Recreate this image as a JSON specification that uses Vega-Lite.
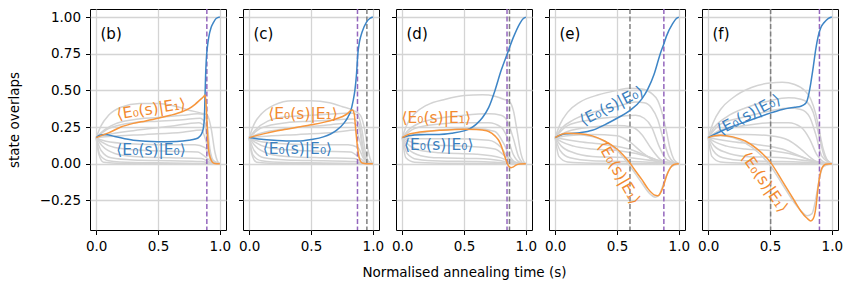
{
"$schema":"https://vega.github.io/schema/vega-lite/v6.json",
"padding":{"left":6,"top":7,"right":5,"bottom":5},
"bounds":"flush",
"spacing":17,
"datasets":{
"curves":[
{"p":"b","c":"E0","s":0,"v":0.178},{"p":"b","c":"E0","s":0.03,"v":0.195},{"p":"b","c":"E0","s":0.07,"v":0.2},{"p":"b","c":"E0","s":0.15,"v":0.186},{"p":"b","c":"E0","s":0.3,"v":0.16},{"p":"b","c":"E0","s":0.5,"v":0.15},{"p":"b","c":"E0","s":0.65,"v":0.152},{"p":"b","c":"E0","s":0.75,"v":0.16},{"p":"b","c":"E0","s":0.8,"v":0.168},{"p":"b","c":"E0","s":0.83,"v":0.18},{"p":"b","c":"E0","s":0.85,"v":0.2},{"p":"b","c":"E0","s":0.865,"v":0.235},{"p":"b","c":"E0","s":0.875,"v":0.31},{"p":"b","c":"E0","s":0.88,"v":0.45},{"p":"b","c":"E0","s":0.885,"v":0.6},{"p":"b","c":"E0","s":0.89,"v":0.7},{"p":"b","c":"E0","s":0.9,"v":0.8},{"p":"b","c":"E0","s":0.91,"v":0.86},{"p":"b","c":"E0","s":0.93,"v":0.93},{"p":"b","c":"E0","s":0.95,"v":0.965},{"p":"b","c":"E0","s":0.97,"v":0.99},{"p":"b","c":"E0","s":1,"v":1},
{"p":"b","c":"E1","s":0,"v":0.178},{"p":"b","c":"E1","s":0.05,"v":0.195},{"p":"b","c":"E1","s":0.1,"v":0.21},{"p":"b","c":"E1","s":0.2,"v":0.25},{"p":"b","c":"E1","s":0.3,"v":0.275},{"p":"b","c":"E1","s":0.4,"v":0.292},{"p":"b","c":"E1","s":0.5,"v":0.31},{"p":"b","c":"E1","s":0.6,"v":0.33},{"p":"b","c":"E1","s":0.7,"v":0.356},{"p":"b","c":"E1","s":0.75,"v":0.375},{"p":"b","c":"E1","s":0.8,"v":0.405},{"p":"b","c":"E1","s":0.84,"v":0.435},{"p":"b","c":"E1","s":0.87,"v":0.458},{"p":"b","c":"E1","s":0.88,"v":0.468},{"p":"b","c":"E1","s":0.888,"v":0.42},{"p":"b","c":"E1","s":0.895,"v":0.31},{"p":"b","c":"E1","s":0.902,"v":0.18},{"p":"b","c":"E1","s":0.91,"v":0.09},{"p":"b","c":"E1","s":0.925,"v":0.035},{"p":"b","c":"E1","s":0.94,"v":0.01},{"p":"b","c":"E1","s":0.96,"v":0.002},{"p":"b","c":"E1","s":1,"v":0},
{"p":"b","c":"g1","s":0,"v":0.178},{"p":"b","c":"g1","s":0.04,"v":0.26},{"p":"b","c":"g1","s":0.1,"v":0.33},{"p":"b","c":"g1","s":0.2,"v":0.385},{"p":"b","c":"g1","s":0.35,"v":0.41},{"p":"b","c":"g1","s":0.5,"v":0.41},{"p":"b","c":"g1","s":0.65,"v":0.39},{"p":"b","c":"g1","s":0.75,"v":0.365},{"p":"b","c":"g1","s":0.85,"v":0.345},{"p":"b","c":"g1","s":0.9,"v":0.33},{"p":"b","c":"g1","s":0.93,"v":0.24},{"p":"b","c":"g1","s":0.96,"v":0.08},{"p":"b","c":"g1","s":0.98,"v":0.02},{"p":"b","c":"g1","s":1,"v":0},
{"p":"b","c":"g2","s":0,"v":0.178},{"p":"b","c":"g2","s":0.05,"v":0.22},{"p":"b","c":"g2","s":0.15,"v":0.27},{"p":"b","c":"g2","s":0.3,"v":0.3},{"p":"b","c":"g2","s":0.5,"v":0.315},{"p":"b","c":"g2","s":0.7,"v":0.33},{"p":"b","c":"g2","s":0.82,"v":0.34},{"p":"b","c":"g2","s":0.87,"v":0.335},{"p":"b","c":"g2","s":0.9,"v":0.25},{"p":"b","c":"g2","s":0.92,"v":0.1},{"p":"b","c":"g2","s":0.95,"v":0.02},{"p":"b","c":"g2","s":1,"v":0},
{"p":"b","c":"g3","s":0,"v":0.178},{"p":"b","c":"g3","s":0.1,"v":0.24},{"p":"b","c":"g3","s":0.3,"v":0.28},{"p":"b","c":"g3","s":0.5,"v":0.29},{"p":"b","c":"g3","s":0.7,"v":0.3},{"p":"b","c":"g3","s":0.84,"v":0.31},{"p":"b","c":"g3","s":0.88,"v":0.28},{"p":"b","c":"g3","s":0.91,"v":0.12},{"p":"b","c":"g3","s":0.94,"v":0.02},{"p":"b","c":"g3","s":1,"v":0},
{"p":"b","c":"g4","s":0,"v":0.178},{"p":"b","c":"g4","s":0.1,"v":0.2},{"p":"b","c":"g4","s":0.3,"v":0.225},{"p":"b","c":"g4","s":0.6,"v":0.255},{"p":"b","c":"g4","s":0.83,"v":0.28},{"p":"b","c":"g4","s":0.88,"v":0.25},{"p":"b","c":"g4","s":0.91,"v":0.08},{"p":"b","c":"g4","s":0.95,"v":0.01},{"p":"b","c":"g4","s":1,"v":0},
{"p":"b","c":"g5","s":0,"v":0.178},{"p":"b","c":"g5","s":0.1,"v":0.185},{"p":"b","c":"g5","s":0.4,"v":0.2},{"p":"b","c":"g5","s":0.7,"v":0.215},{"p":"b","c":"g5","s":0.85,"v":0.23},{"p":"b","c":"g5","s":0.89,"v":0.15},{"p":"b","c":"g5","s":0.93,"v":0.02},{"p":"b","c":"g5","s":1,"v":0},
{"p":"b","c":"g6","s":0,"v":0.178},{"p":"b","c":"g6","s":0.05,"v":0.16},{"p":"b","c":"g6","s":0.2,"v":0.14},{"p":"b","c":"g6","s":0.5,"v":0.13},{"p":"b","c":"g6","s":0.8,"v":0.13},{"p":"b","c":"g6","s":0.88,"v":0.11},{"p":"b","c":"g6","s":0.93,"v":0.03},{"p":"b","c":"g6","s":1,"v":0},
{"p":"b","c":"g7","s":0,"v":0.178},{"p":"b","c":"g7","s":0.05,"v":0.145},{"p":"b","c":"g7","s":0.15,"v":0.11},{"p":"b","c":"g7","s":0.3,"v":0.095},{"p":"b","c":"g7","s":0.6,"v":0.085},{"p":"b","c":"g7","s":0.82,"v":0.08},{"p":"b","c":"g7","s":0.9,"v":0.035},{"p":"b","c":"g7","s":0.95,"v":0.005},{"p":"b","c":"g7","s":1,"v":0},
{"p":"b","c":"g8","s":0,"v":0.178},{"p":"b","c":"g8","s":0.05,"v":0.12},{"p":"b","c":"g8","s":0.15,"v":0.07},{"p":"b","c":"g8","s":0.3,"v":0.05},{"p":"b","c":"g8","s":0.6,"v":0.04},{"p":"b","c":"g8","s":0.85,"v":0.035},{"p":"b","c":"g8","s":0.92,"v":0.01},{"p":"b","c":"g8","s":1,"v":0},
{"p":"b","c":"g9","s":0,"v":0.178},{"p":"b","c":"g9","s":0.04,"v":0.09},{"p":"b","c":"g9","s":0.12,"v":0.04},{"p":"b","c":"g9","s":0.3,"v":0.025},{"p":"b","c":"g9","s":0.6,"v":0.02},{"p":"b","c":"g9","s":0.85,"v":0.015},{"p":"b","c":"g9","s":0.93,"v":0.003},{"p":"b","c":"g9","s":1,"v":0},
{"p":"b","c":"g10","s":0,"v":0.178},{"p":"b","c":"g10","s":0.03,"v":0.06},{"p":"b","c":"g10","s":0.1,"v":0.02},{"p":"b","c":"g10","s":0.3,"v":0.008},{"p":"b","c":"g10","s":0.6,"v":0.005},{"p":"b","c":"g10","s":1,"v":0},
{"p":"b","c":"g11","s":0,"v":0.178},{"p":"b","c":"g11","s":0.02,"v":0.07},{"p":"b","c":"g11","s":0.06,"v":0.01},{"p":"b","c":"g11","s":0.2,"v":0.002},{"p":"b","c":"g11","s":1,"v":0},

{"p":"c","c":"E0","s":0,"v":0.178},{"p":"c","c":"E0","s":0.05,"v":0.172},{"p":"c","c":"E0","s":0.1,"v":0.167},{"p":"c","c":"E0","s":0.2,"v":0.16},{"p":"c","c":"E0","s":0.3,"v":0.155},{"p":"c","c":"E0","s":0.4,"v":0.155},{"p":"c","c":"E0","s":0.5,"v":0.165},{"p":"c","c":"E0","s":0.6,"v":0.183},{"p":"c","c":"E0","s":0.7,"v":0.224},{"p":"c","c":"E0","s":0.77,"v":0.28},{"p":"c","c":"E0","s":0.8,"v":0.32},{"p":"c","c":"E0","s":0.82,"v":0.356},{"p":"c","c":"E0","s":0.841,"v":0.43},{"p":"c","c":"E0","s":0.855,"v":0.5},{"p":"c","c":"E0","s":0.868,"v":0.61},{"p":"c","c":"E0","s":0.879,"v":0.75},{"p":"c","c":"E0","s":0.892,"v":0.83},{"p":"c","c":"E0","s":0.914,"v":0.9},{"p":"c","c":"E0","s":0.949,"v":0.966},{"p":"c","c":"E0","s":0.975,"v":0.99},{"p":"c","c":"E0","s":1,"v":1},
{"p":"c","c":"E1","s":0,"v":0.178},{"p":"c","c":"E1","s":0.05,"v":0.19},{"p":"c","c":"E1","s":0.1,"v":0.2},{"p":"c","c":"E1","s":0.2,"v":0.22},{"p":"c","c":"E1","s":0.3,"v":0.235},{"p":"c","c":"E1","s":0.4,"v":0.25},{"p":"c","c":"E1","s":0.5,"v":0.265},{"p":"c","c":"E1","s":0.6,"v":0.282},{"p":"c","c":"E1","s":0.7,"v":0.305},{"p":"c","c":"E1","s":0.75,"v":0.32},{"p":"c","c":"E1","s":0.8,"v":0.345},{"p":"c","c":"E1","s":0.82,"v":0.362},{"p":"c","c":"E1","s":0.835,"v":0.366},{"p":"c","c":"E1","s":0.85,"v":0.338},{"p":"c","c":"E1","s":0.86,"v":0.247},{"p":"c","c":"E1","s":0.874,"v":0.13},{"p":"c","c":"E1","s":0.89,"v":0.04},{"p":"c","c":"E1","s":0.914,"v":0.005},{"p":"c","c":"E1","s":0.95,"v":0},{"p":"c","c":"E1","s":1,"v":0},
{"p":"c","c":"g1","s":0,"v":0.178},{"p":"c","c":"g1","s":0.04,"v":0.27},{"p":"c","c":"g1","s":0.1,"v":0.34},{"p":"c","c":"g1","s":0.2,"v":0.4},{"p":"c","c":"g1","s":0.35,"v":0.43},{"p":"c","c":"g1","s":0.5,"v":0.43},{"p":"c","c":"g1","s":0.65,"v":0.415},{"p":"c","c":"g1","s":0.75,"v":0.39},{"p":"c","c":"g1","s":0.85,"v":0.36},{"p":"c","c":"g1","s":0.9,"v":0.33},{"p":"c","c":"g1","s":0.93,"v":0.25},{"p":"c","c":"g1","s":0.96,"v":0.1},{"p":"c","c":"g1","s":0.98,"v":0.03},{"p":"c","c":"g1","s":1,"v":0},
{"p":"c","c":"g2","s":0,"v":0.178},{"p":"c","c":"g2","s":0.05,"v":0.23},{"p":"c","c":"g2","s":0.15,"v":0.29},{"p":"c","c":"g2","s":0.3,"v":0.32},{"p":"c","c":"g2","s":0.5,"v":0.33},{"p":"c","c":"g2","s":0.7,"v":0.34},{"p":"c","c":"g2","s":0.82,"v":0.345},{"p":"c","c":"g2","s":0.88,"v":0.33},{"p":"c","c":"g2","s":0.91,"v":0.24},{"p":"c","c":"g2","s":0.94,"v":0.08},{"p":"c","c":"g2","s":0.97,"v":0.01},{"p":"c","c":"g2","s":1,"v":0},
{"p":"c","c":"g3","s":0,"v":0.178},{"p":"c","c":"g3","s":0.1,"v":0.245},{"p":"c","c":"g3","s":0.3,"v":0.28},{"p":"c","c":"g3","s":0.5,"v":0.29},{"p":"c","c":"g3","s":0.7,"v":0.3},{"p":"c","c":"g3","s":0.84,"v":0.305},{"p":"c","c":"g3","s":0.89,"v":0.27},{"p":"c","c":"g3","s":0.92,"v":0.12},{"p":"c","c":"g3","s":0.95,"v":0.02},{"p":"c","c":"g3","s":1,"v":0},
{"p":"c","c":"g4","s":0,"v":0.178},{"p":"c","c":"g4","s":0.1,"v":0.21},{"p":"c","c":"g4","s":0.3,"v":0.24},{"p":"c","c":"g4","s":0.6,"v":0.26},{"p":"c","c":"g4","s":0.83,"v":0.28},{"p":"c","c":"g4","s":0.89,"v":0.24},{"p":"c","c":"g4","s":0.92,"v":0.08},{"p":"c","c":"g4","s":0.96,"v":0.01},{"p":"c","c":"g4","s":1,"v":0},
{"p":"c","c":"g5","s":0,"v":0.178},{"p":"c","c":"g5","s":0.1,"v":0.185},{"p":"c","c":"g5","s":0.4,"v":0.2},{"p":"c","c":"g5","s":0.7,"v":0.215},{"p":"c","c":"g5","s":0.86,"v":0.23},{"p":"c","c":"g5","s":0.9,"v":0.14},{"p":"c","c":"g5","s":0.94,"v":0.02},{"p":"c","c":"g5","s":1,"v":0},
{"p":"c","c":"g6","s":0,"v":0.178},{"p":"c","c":"g6","s":0.05,"v":0.16},{"p":"c","c":"g6","s":0.2,"v":0.14},{"p":"c","c":"g6","s":0.5,"v":0.13},{"p":"c","c":"g6","s":0.8,"v":0.13},{"p":"c","c":"g6","s":0.88,"v":0.11},{"p":"c","c":"g6","s":0.93,"v":0.03},{"p":"c","c":"g6","s":1,"v":0},
{"p":"c","c":"g7","s":0,"v":0.178},{"p":"c","c":"g7","s":0.05,"v":0.145},{"p":"c","c":"g7","s":0.15,"v":0.11},{"p":"c","c":"g7","s":0.3,"v":0.095},{"p":"c","c":"g7","s":0.6,"v":0.085},{"p":"c","c":"g7","s":0.82,"v":0.08},{"p":"c","c":"g7","s":0.9,"v":0.035},{"p":"c","c":"g7","s":0.95,"v":0.005},{"p":"c","c":"g7","s":1,"v":0},
{"p":"c","c":"g8","s":0,"v":0.178},{"p":"c","c":"g8","s":0.05,"v":0.12},{"p":"c","c":"g8","s":0.15,"v":0.07},{"p":"c","c":"g8","s":0.3,"v":0.05},{"p":"c","c":"g8","s":0.6,"v":0.04},{"p":"c","c":"g8","s":0.85,"v":0.035},{"p":"c","c":"g8","s":0.92,"v":0.01},{"p":"c","c":"g8","s":1,"v":0},
{"p":"c","c":"g9","s":0,"v":0.178},{"p":"c","c":"g9","s":0.04,"v":0.09},{"p":"c","c":"g9","s":0.12,"v":0.04},{"p":"c","c":"g9","s":0.3,"v":0.025},{"p":"c","c":"g9","s":0.6,"v":0.02},{"p":"c","c":"g9","s":0.85,"v":0.015},{"p":"c","c":"g9","s":0.93,"v":0.003},{"p":"c","c":"g9","s":1,"v":0},
{"p":"c","c":"g10","s":0,"v":0.178},{"p":"c","c":"g10","s":0.03,"v":0.06},{"p":"c","c":"g10","s":0.1,"v":0.02},{"p":"c","c":"g10","s":0.3,"v":0.008},{"p":"c","c":"g10","s":0.6,"v":0.005},{"p":"c","c":"g10","s":1,"v":0},
{"p":"c","c":"g11","s":0,"v":0.178},{"p":"c","c":"g11","s":0.02,"v":0.07},{"p":"c","c":"g11","s":0.06,"v":0.01},{"p":"c","c":"g11","s":0.2,"v":0.002},{"p":"c","c":"g11","s":1,"v":0},

{"p":"d","c":"E0","s":0,"v":0.178},{"p":"d","c":"E0","s":0.05,"v":0.19},{"p":"d","c":"E0","s":0.1,"v":0.196},{"p":"d","c":"E0","s":0.2,"v":0.2},{"p":"d","c":"E0","s":0.3,"v":0.2},{"p":"d","c":"E0","s":0.4,"v":0.208},{"p":"d","c":"E0","s":0.5,"v":0.224},{"p":"d","c":"E0","s":0.55,"v":0.24},{"p":"d","c":"E0","s":0.6,"v":0.27},{"p":"d","c":"E0","s":0.65,"v":0.315},{"p":"d","c":"E0","s":0.7,"v":0.384},{"p":"d","c":"E0","s":0.75,"v":0.498},{"p":"d","c":"E0","s":0.8,"v":0.635},{"p":"d","c":"E0","s":0.85,"v":0.75},{"p":"d","c":"E0","s":0.9,"v":0.863},{"p":"d","c":"E0","s":0.95,"v":0.954},{"p":"d","c":"E0","s":0.98,"v":0.99},{"p":"d","c":"E0","s":1,"v":1},
{"p":"d","c":"E1","s":0,"v":0.178},{"p":"d","c":"E1","s":0.05,"v":0.2},{"p":"d","c":"E1","s":0.1,"v":0.21},{"p":"d","c":"E1","s":0.2,"v":0.222},{"p":"d","c":"E1","s":0.3,"v":0.228},{"p":"d","c":"E1","s":0.4,"v":0.232},{"p":"d","c":"E1","s":0.5,"v":0.235},{"p":"d","c":"E1","s":0.6,"v":0.234},{"p":"d","c":"E1","s":0.65,"v":0.23},{"p":"d","c":"E1","s":0.7,"v":0.22},{"p":"d","c":"E1","s":0.75,"v":0.19},{"p":"d","c":"E1","s":0.78,"v":0.16},{"p":"d","c":"E1","s":0.8,"v":0.125},{"p":"d","c":"E1","s":0.82,"v":0.075},{"p":"d","c":"E1","s":0.84,"v":0.025},{"p":"d","c":"E1","s":0.86,"v":-0.015},{"p":"d","c":"E1","s":0.88,"v":-0.027},{"p":"d","c":"E1","s":0.9,"v":-0.022},{"p":"d","c":"E1","s":0.92,"v":-0.01},{"p":"d","c":"E1","s":0.95,"v":-0.002},{"p":"d","c":"E1","s":1,"v":0},
{"p":"d","c":"g1","s":0,"v":0.178},{"p":"d","c":"g1","s":0.04,"v":0.27},{"p":"d","c":"g1","s":0.1,"v":0.34},{"p":"d","c":"g1","s":0.2,"v":0.4},{"p":"d","c":"g1","s":0.35,"v":0.44},{"p":"d","c":"g1","s":0.5,"v":0.465},{"p":"d","c":"g1","s":0.65,"v":0.47},{"p":"d","c":"g1","s":0.75,"v":0.46},{"p":"d","c":"g1","s":0.82,"v":0.44},{"p":"d","c":"g1","s":0.87,"v":0.42},{"p":"d","c":"g1","s":0.9,"v":0.36},{"p":"d","c":"g1","s":0.93,"v":0.22},{"p":"d","c":"g1","s":0.96,"v":0.07},{"p":"d","c":"g1","s":0.98,"v":0.02},{"p":"d","c":"g1","s":1,"v":0},
{"p":"d","c":"g2","s":0,"v":0.178},{"p":"d","c":"g2","s":0.05,"v":0.23},{"p":"d","c":"g2","s":0.15,"v":0.28},{"p":"d","c":"g2","s":0.3,"v":0.31},{"p":"d","c":"g2","s":0.5,"v":0.33},{"p":"d","c":"g2","s":0.7,"v":0.34},{"p":"d","c":"g2","s":0.8,"v":0.33},{"p":"d","c":"g2","s":0.85,"v":0.29},{"p":"d","c":"g2","s":0.9,"v":0.17},{"p":"d","c":"g2","s":0.94,"v":0.05},{"p":"d","c":"g2","s":0.97,"v":0.01},{"p":"d","c":"g2","s":1,"v":0},
{"p":"d","c":"g3","s":0,"v":0.178},{"p":"d","c":"g3","s":0.1,"v":0.24},{"p":"d","c":"g3","s":0.3,"v":0.27},{"p":"d","c":"g3","s":0.5,"v":0.28},{"p":"d","c":"g3","s":0.7,"v":0.28},{"p":"d","c":"g3","s":0.8,"v":0.25},{"p":"d","c":"g3","s":0.85,"v":0.18},{"p":"d","c":"g3","s":0.9,"v":0.06},{"p":"d","c":"g3","s":0.95,"v":0.01},{"p":"d","c":"g3","s":1,"v":0},
{"p":"d","c":"g4","s":0,"v":0.178},{"p":"d","c":"g4","s":0.1,"v":0.2},{"p":"d","c":"g4","s":0.3,"v":0.23},{"p":"d","c":"g4","s":0.6,"v":0.24},{"p":"d","c":"g4","s":0.75,"v":0.22},{"p":"d","c":"g4","s":0.82,"v":0.14},{"p":"d","c":"g4","s":0.87,"v":0.05},{"p":"d","c":"g4","s":0.92,"v":0.01},{"p":"d","c":"g4","s":1,"v":0},
{"p":"d","c":"g5","s":0,"v":0.178},{"p":"d","c":"g5","s":0.1,"v":0.17},{"p":"d","c":"g5","s":0.4,"v":0.17},{"p":"d","c":"g5","s":0.7,"v":0.16},{"p":"d","c":"g5","s":0.8,"v":0.11},{"p":"d","c":"g5","s":0.86,"v":0.04},{"p":"d","c":"g5","s":0.92,"v":0.005},{"p":"d","c":"g5","s":1,"v":0},
{"p":"d","c":"g6","s":0,"v":0.178},{"p":"d","c":"g6","s":0.05,"v":0.155},{"p":"d","c":"g6","s":0.2,"v":0.13},{"p":"d","c":"g6","s":0.5,"v":0.12},{"p":"d","c":"g6","s":0.75,"v":0.1},{"p":"d","c":"g6","s":0.85,"v":0.04},{"p":"d","c":"g6","s":0.92,"v":0.005},{"p":"d","c":"g6","s":1,"v":0},
{"p":"d","c":"g7","s":0,"v":0.178},{"p":"d","c":"g7","s":0.05,"v":0.13},{"p":"d","c":"g7","s":0.15,"v":0.09},{"p":"d","c":"g7","s":0.3,"v":0.075},{"p":"d","c":"g7","s":0.6,"v":0.065},{"p":"d","c":"g7","s":0.8,"v":0.04},{"p":"d","c":"g7","s":0.88,"v":0.01},{"p":"d","c":"g7","s":1,"v":0},
{"p":"d","c":"g8","s":0,"v":0.178},{"p":"d","c":"g8","s":0.05,"v":0.1},{"p":"d","c":"g8","s":0.15,"v":0.055},{"p":"d","c":"g8","s":0.3,"v":0.04},{"p":"d","c":"g8","s":0.6,"v":0.035},{"p":"d","c":"g8","s":0.8,"v":0.02},{"p":"d","c":"g8","s":0.9,"v":0.003},{"p":"d","c":"g8","s":1,"v":0},
{"p":"d","c":"g9","s":0,"v":0.178},{"p":"d","c":"g9","s":0.04,"v":0.07},{"p":"d","c":"g9","s":0.12,"v":0.03},{"p":"d","c":"g9","s":0.3,"v":0.018},{"p":"d","c":"g9","s":0.6,"v":0.015},{"p":"d","c":"g9","s":0.85,"v":0.005},{"p":"d","c":"g9","s":1,"v":0},
{"p":"d","c":"g10","s":0,"v":0.178},{"p":"d","c":"g10","s":0.03,"v":0.04},{"p":"d","c":"g10","s":0.1,"v":0.01},{"p":"d","c":"g10","s":0.3,"v":0.004},{"p":"d","c":"g10","s":1,"v":0},

{"p":"e","c":"E0","s":0,"v":0.178},{"p":"e","c":"E0","s":0.05,"v":0.198},{"p":"e","c":"E0","s":0.1,"v":0.205},{"p":"e","c":"E0","s":0.2,"v":0.212},{"p":"e","c":"E0","s":0.3,"v":0.228},{"p":"e","c":"E0","s":0.4,"v":0.265},{"p":"e","c":"E0","s":0.5,"v":0.31},{"p":"e","c":"E0","s":0.6,"v":0.36},{"p":"e","c":"E0","s":0.7,"v":0.44},{"p":"e","c":"E0","s":0.75,"v":0.51},{"p":"e","c":"E0","s":0.8,"v":0.61},{"p":"e","c":"E0","s":0.85,"v":0.75},{"p":"e","c":"E0","s":0.88,"v":0.82},{"p":"e","c":"E0","s":0.9,"v":0.87},{"p":"e","c":"E0","s":0.95,"v":0.955},{"p":"e","c":"E0","s":0.98,"v":0.99},{"p":"e","c":"E0","s":1,"v":1},
{"p":"e","c":"E1","s":0,"v":0.178},{"p":"e","c":"E1","s":0.05,"v":0.2},{"p":"e","c":"E1","s":0.1,"v":0.208},{"p":"e","c":"E1","s":0.2,"v":0.205},{"p":"e","c":"E1","s":0.3,"v":0.19},{"p":"e","c":"E1","s":0.4,"v":0.155},{"p":"e","c":"E1","s":0.5,"v":0.1},{"p":"e","c":"E1","s":0.55,"v":0.06},{"p":"e","c":"E1","s":0.6,"v":0.01},{"p":"e","c":"E1","s":0.65,"v":-0.05},{"p":"e","c":"E1","s":0.7,"v":-0.107},{"p":"e","c":"E1","s":0.75,"v":-0.17},{"p":"e","c":"E1","s":0.8,"v":-0.212},{"p":"e","c":"E1","s":0.83,"v":-0.218},{"p":"e","c":"E1","s":0.86,"v":-0.185},{"p":"e","c":"E1","s":0.88,"v":-0.14},{"p":"e","c":"E1","s":0.9,"v":-0.085},{"p":"e","c":"E1","s":0.93,"v":-0.03},{"p":"e","c":"E1","s":0.96,"v":-0.005},{"p":"e","c":"E1","s":1,"v":0},
{"p":"e","c":"g1","s":0,"v":0.178},{"p":"e","c":"g1","s":0.04,"v":0.27},{"p":"e","c":"g1","s":0.1,"v":0.35},{"p":"e","c":"g1","s":0.2,"v":0.42},{"p":"e","c":"g1","s":0.35,"v":0.47},{"p":"e","c":"g1","s":0.5,"v":0.5},{"p":"e","c":"g1","s":0.6,"v":0.515},{"p":"e","c":"g1","s":0.7,"v":0.51},{"p":"e","c":"g1","s":0.78,"v":0.48},{"p":"e","c":"g1","s":0.83,"v":0.43},{"p":"e","c":"g1","s":0.87,"v":0.33},{"p":"e","c":"g1","s":0.9,"v":0.22},{"p":"e","c":"g1","s":0.93,"v":0.1},{"p":"e","c":"g1","s":0.96,"v":0.03},{"p":"e","c":"g1","s":1,"v":0},
{"p":"e","c":"g2","s":0,"v":0.178},{"p":"e","c":"g2","s":0.05,"v":0.24},{"p":"e","c":"g2","s":0.15,"v":0.3},{"p":"e","c":"g2","s":0.3,"v":0.35},{"p":"e","c":"g2","s":0.5,"v":0.39},{"p":"e","c":"g2","s":0.65,"v":0.42},{"p":"e","c":"g2","s":0.72,"v":0.415},{"p":"e","c":"g2","s":0.78,"v":0.38},{"p":"e","c":"g2","s":0.83,"v":0.3},{"p":"e","c":"g2","s":0.88,"v":0.15},{"p":"e","c":"g2","s":0.92,"v":0.05},{"p":"e","c":"g2","s":0.96,"v":0.01},{"p":"e","c":"g2","s":1,"v":0},
{"p":"e","c":"g3","s":0,"v":0.178},{"p":"e","c":"g3","s":0.1,"v":0.26},{"p":"e","c":"g3","s":0.3,"v":0.3},{"p":"e","c":"g3","s":0.5,"v":0.32},{"p":"e","c":"g3","s":0.65,"v":0.33},{"p":"e","c":"g3","s":0.72,"v":0.31},{"p":"e","c":"g3","s":0.78,"v":0.25},{"p":"e","c":"g3","s":0.84,"v":0.12},{"p":"e","c":"g3","s":0.9,"v":0.03},{"p":"e","c":"g3","s":1,"v":0},
{"p":"e","c":"g4","s":0,"v":0.178},{"p":"e","c":"g4","s":0.1,"v":0.22},{"p":"e","c":"g4","s":0.3,"v":0.25},{"p":"e","c":"g4","s":0.5,"v":0.26},{"p":"e","c":"g4","s":0.62,"v":0.25},{"p":"e","c":"g4","s":0.7,"v":0.2},{"p":"e","c":"g4","s":0.78,"v":0.1},{"p":"e","c":"g4","s":0.85,"v":0.03},{"p":"e","c":"g4","s":0.92,"v":0.005},{"p":"e","c":"g4","s":1,"v":0},
{"p":"e","c":"g5","s":0,"v":0.178},{"p":"e","c":"g5","s":0.1,"v":0.19},{"p":"e","c":"g5","s":0.3,"v":0.2},{"p":"e","c":"g5","s":0.5,"v":0.19},{"p":"e","c":"g5","s":0.6,"v":0.15},{"p":"e","c":"g5","s":0.7,"v":0.08},{"p":"e","c":"g5","s":0.8,"v":0.02},{"p":"e","c":"g5","s":0.9,"v":0},{"p":"e","c":"g5","s":1,"v":0},
{"p":"e","c":"g6","s":0,"v":0.178},{"p":"e","c":"g6","s":0.1,"v":0.205},{"p":"e","c":"g6","s":0.3,"v":0.185},{"p":"e","c":"g6","s":0.5,"v":0.09},{"p":"e","c":"g6","s":0.6,"v":-0.01},{"p":"e","c":"g6","s":0.7,"v":-0.13},{"p":"e","c":"g6","s":0.76,"v":-0.2},{"p":"e","c":"g6","s":0.81,"v":-0.228},{"p":"e","c":"g6","s":0.84,"v":-0.215},{"p":"e","c":"g6","s":0.87,"v":-0.15},{"p":"e","c":"g6","s":0.9,"v":-0.08},{"p":"e","c":"g6","s":0.94,"v":-0.02},{"p":"e","c":"g6","s":1,"v":0},
{"p":"e","c":"g7","s":0,"v":0.178},{"p":"e","c":"g7","s":0.05,"v":0.15},{"p":"e","c":"g7","s":0.15,"v":0.12},{"p":"e","c":"g7","s":0.3,"v":0.1},{"p":"e","c":"g7","s":0.5,"v":0.09},{"p":"e","c":"g7","s":0.7,"v":0.06},{"p":"e","c":"g7","s":0.85,"v":0.02},{"p":"e","c":"g7","s":1,"v":0},
{"p":"e","c":"g8","s":0,"v":0.178},{"p":"e","c":"g8","s":0.05,"v":0.12},{"p":"e","c":"g8","s":0.15,"v":0.075},{"p":"e","c":"g8","s":0.3,"v":0.05},{"p":"e","c":"g8","s":0.6,"v":0.04},{"p":"e","c":"g8","s":0.8,"v":0.02},{"p":"e","c":"g8","s":1,"v":0},
{"p":"e","c":"g9","s":0,"v":0.178},{"p":"e","c":"g9","s":0.04,"v":0.09},{"p":"e","c":"g9","s":0.12,"v":0.04},{"p":"e","c":"g9","s":0.3,"v":0.02},{"p":"e","c":"g9","s":0.6,"v":0.015},{"p":"e","c":"g9","s":0.9,"v":0.005},{"p":"e","c":"g9","s":1,"v":0},
{"p":"e","c":"g10","s":0,"v":0.178},{"p":"e","c":"g10","s":0.03,"v":0.05},{"p":"e","c":"g10","s":0.1,"v":0.012},{"p":"e","c":"g10","s":0.3,"v":0.004},{"p":"e","c":"g10","s":1,"v":0},
{"p":"e","c":"g11","s":0,"v":0.178},{"p":"e","c":"g11","s":0.05,"v":0.17},{"p":"e","c":"g11","s":0.2,"v":0.15},{"p":"e","c":"g11","s":0.4,"v":0.13},{"p":"e","c":"g11","s":0.6,"v":0.1},{"p":"e","c":"g11","s":0.75,"v":0.05},{"p":"e","c":"g11","s":0.88,"v":0.01},{"p":"e","c":"g11","s":1,"v":0},

{"p":"f","c":"E0","s":0,"v":0.178},{"p":"f","c":"E0","s":0.05,"v":0.2},{"p":"f","c":"E0","s":0.1,"v":0.22},{"p":"f","c":"E0","s":0.2,"v":0.255},{"p":"f","c":"E0","s":0.3,"v":0.285},{"p":"f","c":"E0","s":0.4,"v":0.315},{"p":"f","c":"E0","s":0.5,"v":0.345},{"p":"f","c":"E0","s":0.6,"v":0.37},{"p":"f","c":"E0","s":0.7,"v":0.385},{"p":"f","c":"E0","s":0.75,"v":0.392},{"p":"f","c":"E0","s":0.78,"v":0.405},{"p":"f","c":"E0","s":0.8,"v":0.43},{"p":"f","c":"E0","s":0.815,"v":0.48},{"p":"f","c":"E0","s":0.83,"v":0.55},{"p":"f","c":"E0","s":0.85,"v":0.66},{"p":"f","c":"E0","s":0.87,"v":0.78},{"p":"f","c":"E0","s":0.89,"v":0.87},{"p":"f","c":"E0","s":0.91,"v":0.925},{"p":"f","c":"E0","s":0.94,"v":0.965},{"p":"f","c":"E0","s":0.97,"v":0.99},{"p":"f","c":"E0","s":1,"v":1},
{"p":"f","c":"E1","s":0,"v":0.178},{"p":"f","c":"E1","s":0.05,"v":0.19},{"p":"f","c":"E1","s":0.1,"v":0.194},{"p":"f","c":"E1","s":0.2,"v":0.183},{"p":"f","c":"E1","s":0.3,"v":0.155},{"p":"f","c":"E1","s":0.4,"v":0.098},{"p":"f","c":"E1","s":0.5,"v":0.014},{"p":"f","c":"E1","s":0.6,"v":-0.119},{"p":"f","c":"E1","s":0.7,"v":-0.256},{"p":"f","c":"E1","s":0.75,"v":-0.324},{"p":"f","c":"E1","s":0.8,"v":-0.372},{"p":"f","c":"E1","s":0.83,"v":-0.39},{"p":"f","c":"E1","s":0.85,"v":-0.375},{"p":"f","c":"E1","s":0.865,"v":-0.33},{"p":"f","c":"E1","s":0.875,"v":-0.27},{"p":"f","c":"E1","s":0.885,"v":-0.19},{"p":"f","c":"E1","s":0.9,"v":-0.096},{"p":"f","c":"E1","s":0.92,"v":-0.03},{"p":"f","c":"E1","s":0.95,"v":-0.003},{"p":"f","c":"E1","s":1,"v":0},
{"p":"f","c":"g1","s":0,"v":0.178},{"p":"f","c":"g1","s":0.04,"v":0.28},{"p":"f","c":"g1","s":0.1,"v":0.37},{"p":"f","c":"g1","s":0.2,"v":0.45},{"p":"f","c":"g1","s":0.35,"v":0.52},{"p":"f","c":"g1","s":0.5,"v":0.55},{"p":"f","c":"g1","s":0.6,"v":0.555},{"p":"f","c":"g1","s":0.7,"v":0.54},{"p":"f","c":"g1","s":0.78,"v":0.5},{"p":"f","c":"g1","s":0.83,"v":0.44},{"p":"f","c":"g1","s":0.87,"v":0.34},{"p":"f","c":"g1","s":0.9,"v":0.22},{"p":"f","c":"g1","s":0.93,"v":0.1},{"p":"f","c":"g1","s":0.96,"v":0.03},{"p":"f","c":"g1","s":1,"v":0},
{"p":"f","c":"g2","s":0,"v":0.178},{"p":"f","c":"g2","s":0.05,"v":0.25},{"p":"f","c":"g2","s":0.15,"v":0.32},{"p":"f","c":"g2","s":0.3,"v":0.38},{"p":"f","c":"g2","s":0.5,"v":0.43},{"p":"f","c":"g2","s":0.65,"v":0.45},{"p":"f","c":"g2","s":0.75,"v":0.44},{"p":"f","c":"g2","s":0.8,"v":0.42},{"p":"f","c":"g2","s":0.85,"v":0.35},{"p":"f","c":"g2","s":0.9,"v":0.18},{"p":"f","c":"g2","s":0.94,"v":0.05},{"p":"f","c":"g2","s":1,"v":0},
{"p":"f","c":"g3","s":0,"v":0.178},{"p":"f","c":"g3","s":0.1,"v":0.27},{"p":"f","c":"g3","s":0.3,"v":0.32},{"p":"f","c":"g3","s":0.5,"v":0.36},{"p":"f","c":"g3","s":0.65,"v":0.38},{"p":"f","c":"g3","s":0.75,"v":0.37},{"p":"f","c":"g3","s":0.82,"v":0.32},{"p":"f","c":"g3","s":0.87,"v":0.2},{"p":"f","c":"g3","s":0.92,"v":0.05},{"p":"f","c":"g3","s":1,"v":0},
{"p":"f","c":"g4","s":0,"v":0.178},{"p":"f","c":"g4","s":0.1,"v":0.23},{"p":"f","c":"g4","s":0.3,"v":0.26},{"p":"f","c":"g4","s":0.5,"v":0.28},{"p":"f","c":"g4","s":0.65,"v":0.28},{"p":"f","c":"g4","s":0.75,"v":0.25},{"p":"f","c":"g4","s":0.82,"v":0.17},{"p":"f","c":"g4","s":0.88,"v":0.06},{"p":"f","c":"g4","s":0.94,"v":0.01},{"p":"f","c":"g4","s":1,"v":0},
{"p":"f","c":"g5","s":0,"v":0.178},{"p":"f","c":"g5","s":0.1,"v":0.2},{"p":"f","c":"g5","s":0.3,"v":0.2},{"p":"f","c":"g5","s":0.5,"v":0.19},{"p":"f","c":"g5","s":0.65,"v":0.16},{"p":"f","c":"g5","s":0.75,"v":0.1},{"p":"f","c":"g5","s":0.83,"v":0.04},{"p":"f","c":"g5","s":0.9,"v":0.005},{"p":"f","c":"g5","s":1,"v":0},
{"p":"f","c":"g6","s":0,"v":0.178},{"p":"f","c":"g6","s":0.1,"v":0.19},{"p":"f","c":"g6","s":0.3,"v":0.14},{"p":"f","c":"g6","s":0.4,"v":0.08},{"p":"f","c":"g6","s":0.5,"v":-0.01},{"p":"f","c":"g6","s":0.6,"v":-0.14},{"p":"f","c":"g6","s":0.7,"v":-0.27},{"p":"f","c":"g6","s":0.76,"v":-0.33},{"p":"f","c":"g6","s":0.8,"v":-0.355},{"p":"f","c":"g6","s":0.84,"v":-0.34},{"p":"f","c":"g6","s":0.87,"v":-0.24},{"p":"f","c":"g6","s":0.9,"v":-0.1},{"p":"f","c":"g6","s":0.93,"v":-0.02},{"p":"f","c":"g6","s":1,"v":0},
{"p":"f","c":"g7","s":0,"v":0.178},{"p":"f","c":"g7","s":0.05,"v":0.15},{"p":"f","c":"g7","s":0.15,"v":0.12},{"p":"f","c":"g7","s":0.3,"v":0.1},{"p":"f","c":"g7","s":0.5,"v":0.09},{"p":"f","c":"g7","s":0.7,"v":0.06},{"p":"f","c":"g7","s":0.85,"v":0.02},{"p":"f","c":"g7","s":1,"v":0},
{"p":"f","c":"g8","s":0,"v":0.178},{"p":"f","c":"g8","s":0.05,"v":0.12},{"p":"f","c":"g8","s":0.15,"v":0.075},{"p":"f","c":"g8","s":0.3,"v":0.05},{"p":"f","c":"g8","s":0.6,"v":0.04},{"p":"f","c":"g8","s":0.8,"v":0.02},{"p":"f","c":"g8","s":1,"v":0},
{"p":"f","c":"g9","s":0,"v":0.178},{"p":"f","c":"g9","s":0.04,"v":0.09},{"p":"f","c":"g9","s":0.12,"v":0.04},{"p":"f","c":"g9","s":0.3,"v":0.02},{"p":"f","c":"g9","s":0.6,"v":0.015},{"p":"f","c":"g9","s":0.9,"v":0.005},{"p":"f","c":"g9","s":1,"v":0},
{"p":"f","c":"g10","s":0,"v":0.178},{"p":"f","c":"g10","s":0.03,"v":0.05},{"p":"f","c":"g10","s":0.1,"v":0.012},{"p":"f","c":"g10","s":0.3,"v":0.004},{"p":"f","c":"g10","s":1,"v":0},
{"p":"f","c":"g11","s":0,"v":0.178},{"p":"f","c":"g11","s":0.05,"v":0.17},{"p":"f","c":"g11","s":0.2,"v":0.15},{"p":"f","c":"g11","s":0.4,"v":0.13},{"p":"f","c":"g11","s":0.6,"v":0.1},{"p":"f","c":"g11","s":0.75,"v":0.05},{"p":"f","c":"g11","s":0.88,"v":0.01},{"p":"f","c":"g11","s":1,"v":0}
],
"vlines":[
{"p":"b","kind":"gap","s":0.895},
{"p":"c","kind":"gap","s":0.876},{"p":"c","kind":"thr","s":0.952},
{"p":"d","kind":"thr","s":0.868},{"p":"d","kind":"gap","s":0.848},
{"p":"e","kind":"thr","s":0.605},{"p":"e","kind":"gap","s":0.879},
{"p":"f","kind":"thr","s":0.505},{"p":"f","kind":"gap","s":0.9}
],
"labels":[
{"p":"b","c":"E1","s":0.444,"v":0.372,"text":"\u27e8E\u2080(s)|E\u2081\u27e9"},
{"p":"b","c":"E0","s":0.444,"v":0.091,"text":"\u27e8E\u2080(s)|E\u2080\u27e9"},
{"p":"b","c":"letter","s":0.035,"v":0.886,"text":"(b)"},
{"p":"c","c":"E1","s":0.435,"v":0.338,"text":"\u27e8E\u2080(s)|E\u2081\u27e9"},
{"p":"c","c":"E0","s":0.39,"v":0.098,"text":"\u27e8E\u2080(s)|E\u2080\u27e9"},
{"p":"c","c":"letter","s":0.035,"v":0.886,"text":"(c)"},
{"p":"d","c":"E1","s":0.275,"v":0.31,"text":"\u27e8E\u2080(s)|E\u2081\u27e9"},
{"p":"d","c":"E0","s":0.296,"v":0.128,"text":"\u27e8E\u2080(s)|E\u2080\u27e9"},
{"p":"d","c":"letter","s":0.035,"v":0.886,"text":"(d)"},
{"p":"e","c":"E1","s":0.516,"v":-0.062,"text":"\u27e8E\u2080(s)|E\u2081\u27e9"},
{"p":"e","c":"E0","s":0.457,"v":0.395,"text":"\u27e8E\u2080(s)|E\u2080\u27e9"},
{"p":"e","c":"letter","s":0.035,"v":0.886,"text":"(e)"},
{"p":"f","c":"E1","s":0.456,"v":-0.125,"text":"\u27e8E\u2080(s)|E\u2081\u27e9"},
{"p":"f","c":"E0","s":0.328,"v":0.336,"text":"\u27e8E\u2080(s)|E\u2080\u27e9"},
{"p":"f","c":"letter","s":0.035,"v":0.886,"text":"(f)"}
]
},
"hconcat":[
{"width":136,"height":221,"resolve":{"scale":{"color":"independent"}},
"layer":[
{"data":{"name":"curves"},"transform":[{"filter":"datum.p=='b' && datum.c!='E0' && datum.c!='E1'"}],"mark":{"type":"line","interpolate":"monotone","color":"#d3d3d3","strokeWidth":1.5},
"encoding":{"x":{"field":"s","type":"quantitative","scale":{"domain":[-0.05,1.05],"nice":false,"zero":false},"axis":{"values":[0,0.5,1],"format":".1f","title":null}},"y":{"field":"v","type":"quantitative","scale":{"domain":[-0.452,1.055],"nice":false,"zero":false},"axis":{"values":[-0.25,0,0.25,0.5,0.75,1],"format":".2f","title":"state overlaps","titlePadding":18}},"detail":{"field":"c"}}},
{"data":{"name":"vlines"},"transform":[{"filter":"datum.p=='b'"}],"mark":{"type":"rule","strokeDash":[5,2.5],"strokeWidth":1.5},
"encoding":{"x":{"field":"s","type":"quantitative"},"color":{"field":"kind","type":"nominal","scale":{"domain":["thr","gap"],"range":["#808080","#9467bd"]},"legend":null}}},
{"data":{"name":"curves"},"transform":[{"filter":"datum.p=='b' && (datum.c=='E0' || datum.c=='E1')"}],"mark":{"type":"line","interpolate":"monotone","strokeWidth":1.5},
"encoding":{"x":{"field":"s","type":"quantitative"},"y":{"field":"v","type":"quantitative"},"color":{"field":"c","type":"nominal","scale":{"domain":["E0","E1"],"range":["#3d85c6","#f7963c"]},"legend":null}}},
{"data":{"name":"labels"},"transform":[{"filter":"datum.p=='b' && datum.c=='E1'"}],"mark":{"type":"text","angle":-9,"fontSize":15.5,"font":"DejaVu Sans","color":"#f28a30"},
"encoding":{"x":{"field":"s","type":"quantitative"},"y":{"field":"v","type":"quantitative"},"text":{"field":"text"}}},
{"data":{"name":"labels"},"transform":[{"filter":"datum.p=='b' && datum.c=='E0'"}],"mark":{"type":"text","angle":0,"fontSize":15.5,"font":"DejaVu Sans","color":"#3a7fc0"},
"encoding":{"x":{"field":"s","type":"quantitative"},"y":{"field":"v","type":"quantitative"},"text":{"field":"text"}}},
{"data":{"name":"labels"},"transform":[{"filter":"datum.p=='b' && datum.c=='letter'"}],"mark":{"type":"text","align":"left","baseline":"middle","fontSize":15,"font":"DejaVu Sans","color":"black"},
"encoding":{"x":{"field":"s","type":"quantitative"},"y":{"field":"v","type":"quantitative"},"text":{"field":"text"}}}
]},
{"width":136,"height":221,"resolve":{"scale":{"color":"independent"}},
"layer":[
{"data":{"name":"curves"},"transform":[{"filter":"datum.p=='c' && datum.c!='E0' && datum.c!='E1'"}],"mark":{"type":"line","interpolate":"monotone","color":"#d3d3d3","strokeWidth":1.5},
"encoding":{"x":{"field":"s","type":"quantitative","scale":{"domain":[-0.05,1.05],"nice":false,"zero":false},"axis":{"values":[0,0.5,1],"format":".1f","title":null}},"y":{"field":"v","type":"quantitative","scale":{"domain":[-0.452,1.055],"nice":false,"zero":false},"axis":{"values":[-0.25,0,0.25,0.5,0.75,1],"labels":false,"title":null}},"detail":{"field":"c"}}},
{"data":{"name":"vlines"},"transform":[{"filter":"datum.p=='c'"}],"mark":{"type":"rule","strokeDash":[5,2.5],"strokeWidth":1.5},
"encoding":{"x":{"field":"s","type":"quantitative"},"color":{"field":"kind","type":"nominal","scale":{"domain":["thr","gap"],"range":["#808080","#9467bd"]},"legend":null}}},
{"data":{"name":"curves"},"transform":[{"filter":"datum.p=='c' && (datum.c=='E0' || datum.c=='E1')"}],"mark":{"type":"line","interpolate":"monotone","strokeWidth":1.5},
"encoding":{"x":{"field":"s","type":"quantitative"},"y":{"field":"v","type":"quantitative"},"color":{"field":"c","type":"nominal","scale":{"domain":["E0","E1"],"range":["#3d85c6","#f7963c"]},"legend":null}}},
{"data":{"name":"labels"},"transform":[{"filter":"datum.p=='c' && datum.c=='E1'"}],"mark":{"type":"text","angle":0,"fontSize":15.5,"font":"DejaVu Sans","color":"#f28a30"},
"encoding":{"x":{"field":"s","type":"quantitative"},"y":{"field":"v","type":"quantitative"},"text":{"field":"text"}}},
{"data":{"name":"labels"},"transform":[{"filter":"datum.p=='c' && datum.c=='E0'"}],"mark":{"type":"text","angle":0,"fontSize":15.5,"font":"DejaVu Sans","color":"#3a7fc0"},
"encoding":{"x":{"field":"s","type":"quantitative"},"y":{"field":"v","type":"quantitative"},"text":{"field":"text"}}},
{"data":{"name":"labels"},"transform":[{"filter":"datum.p=='c' && datum.c=='letter'"}],"mark":{"type":"text","align":"left","baseline":"middle","fontSize":15,"font":"DejaVu Sans","color":"black"},
"encoding":{"x":{"field":"s","type":"quantitative"},"y":{"field":"v","type":"quantitative"},"text":{"field":"text"}}}
]},
{"width":136,"height":221,"resolve":{"scale":{"color":"independent"}},
"layer":[
{"data":{"name":"curves"},"transform":[{"filter":"datum.p=='d' && datum.c!='E0' && datum.c!='E1'"}],"mark":{"type":"line","interpolate":"monotone","color":"#d3d3d3","strokeWidth":1.5},
"encoding":{"x":{"field":"s","type":"quantitative","scale":{"domain":[-0.05,1.05],"nice":false,"zero":false},"axis":{"values":[0,0.5,1],"format":".1f","title":"Normalised annealing time (s)"}},"y":{"field":"v","type":"quantitative","scale":{"domain":[-0.452,1.055],"nice":false,"zero":false},"axis":{"values":[-0.25,0,0.25,0.5,0.75,1],"labels":false,"title":null}},"detail":{"field":"c"}}},
{"data":{"name":"vlines"},"transform":[{"filter":"datum.p=='d'"}],"mark":{"type":"rule","strokeDash":[5,2.5],"strokeWidth":1.5},
"encoding":{"x":{"field":"s","type":"quantitative"},"color":{"field":"kind","type":"nominal","scale":{"domain":["thr","gap"],"range":["#808080","#9467bd"]},"legend":null}}},
{"data":{"name":"curves"},"transform":[{"filter":"datum.p=='d' && (datum.c=='E0' || datum.c=='E1')"}],"mark":{"type":"line","interpolate":"monotone","strokeWidth":1.5},
"encoding":{"x":{"field":"s","type":"quantitative"},"y":{"field":"v","type":"quantitative"},"color":{"field":"c","type":"nominal","scale":{"domain":["E0","E1"],"range":["#3d85c6","#f7963c"]},"legend":null}}},
{"data":{"name":"labels"},"transform":[{"filter":"datum.p=='d' && datum.c=='E1'"}],"mark":{"type":"text","angle":0,"fontSize":15.5,"font":"DejaVu Sans","color":"#f28a30"},
"encoding":{"x":{"field":"s","type":"quantitative"},"y":{"field":"v","type":"quantitative"},"text":{"field":"text"}}},
{"data":{"name":"labels"},"transform":[{"filter":"datum.p=='d' && datum.c=='E0'"}],"mark":{"type":"text","angle":0,"fontSize":15.5,"font":"DejaVu Sans","color":"#3a7fc0"},
"encoding":{"x":{"field":"s","type":"quantitative"},"y":{"field":"v","type":"quantitative"},"text":{"field":"text"}}},
{"data":{"name":"labels"},"transform":[{"filter":"datum.p=='d' && datum.c=='letter'"}],"mark":{"type":"text","align":"left","baseline":"middle","fontSize":15,"font":"DejaVu Sans","color":"black"},
"encoding":{"x":{"field":"s","type":"quantitative"},"y":{"field":"v","type":"quantitative"},"text":{"field":"text"}}}
]},
{"width":136,"height":221,"resolve":{"scale":{"color":"independent"}},
"layer":[
{"data":{"name":"curves"},"transform":[{"filter":"datum.p=='e' && datum.c!='E0' && datum.c!='E1'"}],"mark":{"type":"line","interpolate":"monotone","color":"#d3d3d3","strokeWidth":1.5},
"encoding":{"x":{"field":"s","type":"quantitative","scale":{"domain":[-0.05,1.05],"nice":false,"zero":false},"axis":{"values":[0,0.5,1],"format":".1f","title":null}},"y":{"field":"v","type":"quantitative","scale":{"domain":[-0.452,1.055],"nice":false,"zero":false},"axis":{"values":[-0.25,0,0.25,0.5,0.75,1],"labels":false,"title":null}},"detail":{"field":"c"}}},
{"data":{"name":"vlines"},"transform":[{"filter":"datum.p=='e'"}],"mark":{"type":"rule","strokeDash":[5,2.5],"strokeWidth":1.5},
"encoding":{"x":{"field":"s","type":"quantitative"},"color":{"field":"kind","type":"nominal","scale":{"domain":["thr","gap"],"range":["#808080","#9467bd"]},"legend":null}}},
{"data":{"name":"curves"},"transform":[{"filter":"datum.p=='e' && (datum.c=='E0' || datum.c=='E1')"}],"mark":{"type":"line","interpolate":"monotone","strokeWidth":1.5},
"encoding":{"x":{"field":"s","type":"quantitative"},"y":{"field":"v","type":"quantitative"},"color":{"field":"c","type":"nominal","scale":{"domain":["E0","E1"],"range":["#3d85c6","#f7963c"]},"legend":null}}},
{"data":{"name":"labels"},"transform":[{"filter":"datum.p=='e' && datum.c=='E1'"}],"mark":{"type":"text","angle":60,"fontSize":15.5,"font":"DejaVu Sans","color":"#f28a30"},
"encoding":{"x":{"field":"s","type":"quantitative"},"y":{"field":"v","type":"quantitative"},"text":{"field":"text"}}},
{"data":{"name":"labels"},"transform":[{"filter":"datum.p=='e' && datum.c=='E0'"}],"mark":{"type":"text","angle":-27,"fontSize":15.5,"font":"DejaVu Sans","color":"#3a7fc0"},
"encoding":{"x":{"field":"s","type":"quantitative"},"y":{"field":"v","type":"quantitative"},"text":{"field":"text"}}},
{"data":{"name":"labels"},"transform":[{"filter":"datum.p=='e' && datum.c=='letter'"}],"mark":{"type":"text","align":"left","baseline":"middle","fontSize":15,"font":"DejaVu Sans","color":"black"},
"encoding":{"x":{"field":"s","type":"quantitative"},"y":{"field":"v","type":"quantitative"},"text":{"field":"text"}}}
]},
{"width":136,"height":221,"resolve":{"scale":{"color":"independent"}},
"layer":[
{"data":{"name":"curves"},"transform":[{"filter":"datum.p=='f' && datum.c!='E0' && datum.c!='E1'"}],"mark":{"type":"line","interpolate":"monotone","color":"#d3d3d3","strokeWidth":1.5},
"encoding":{"x":{"field":"s","type":"quantitative","scale":{"domain":[-0.05,1.05],"nice":false,"zero":false},"axis":{"values":[0,0.5,1],"format":".1f","title":null}},"y":{"field":"v","type":"quantitative","scale":{"domain":[-0.452,1.055],"nice":false,"zero":false},"axis":{"values":[-0.25,0,0.25,0.5,0.75,1],"labels":false,"title":null}},"detail":{"field":"c"}}},
{"data":{"name":"vlines"},"transform":[{"filter":"datum.p=='f'"}],"mark":{"type":"rule","strokeDash":[5,2.5],"strokeWidth":1.5},
"encoding":{"x":{"field":"s","type":"quantitative"},"color":{"field":"kind","type":"nominal","scale":{"domain":["thr","gap"],"range":["#808080","#9467bd"]},"legend":null}}},
{"data":{"name":"curves"},"transform":[{"filter":"datum.p=='f' && (datum.c=='E0' || datum.c=='E1')"}],"mark":{"type":"line","interpolate":"monotone","strokeWidth":1.5},
"encoding":{"x":{"field":"s","type":"quantitative"},"y":{"field":"v","type":"quantitative"},"color":{"field":"c","type":"nominal","scale":{"domain":["E0","E1"],"range":["#3d85c6","#f7963c"]},"legend":null}}},
{"data":{"name":"labels"},"transform":[{"filter":"datum.p=='f' && datum.c=='E1'"}],"mark":{"type":"text","angle":55,"fontSize":15.5,"font":"DejaVu Sans","color":"#f28a30"},
"encoding":{"x":{"field":"s","type":"quantitative"},"y":{"field":"v","type":"quantitative"},"text":{"field":"text"}}},
{"data":{"name":"labels"},"transform":[{"filter":"datum.p=='f' && datum.c=='E0'"}],"mark":{"type":"text","angle":-28,"fontSize":15.5,"font":"DejaVu Sans","color":"#3a7fc0"},
"encoding":{"x":{"field":"s","type":"quantitative"},"y":{"field":"v","type":"quantitative"},"text":{"field":"text"}}},
{"data":{"name":"labels"},"transform":[{"filter":"datum.p=='f' && datum.c=='letter'"}],"mark":{"type":"text","align":"left","baseline":"middle","fontSize":15,"font":"DejaVu Sans","color":"black"},
"encoding":{"x":{"field":"s","type":"quantitative"},"y":{"field":"v","type":"quantitative"},"text":{"field":"text"}}}
]}
],
"config":{
"font":"DejaVu Sans",
"view":{"stroke":"black","strokeWidth":1},
"axis":{"grid":true,"gridColor":"#d4d4d4","gridWidth":1.3,"domain":false,"ticks":true,"tickColor":"black","tickSize":4.5,"tickWidth":1,"labelFont":"DejaVu Sans","labelFontSize":13.5,"labelColor":"black","labelFlush":false,"titleFont":"DejaVu Sans","titleFontSize":13.5,"titleFontWeight":"normal","titleColor":"black"},
"axisX":{"labelPadding":5,"titlePadding":12},
"axisY":{"labelPadding":5}
}
}
